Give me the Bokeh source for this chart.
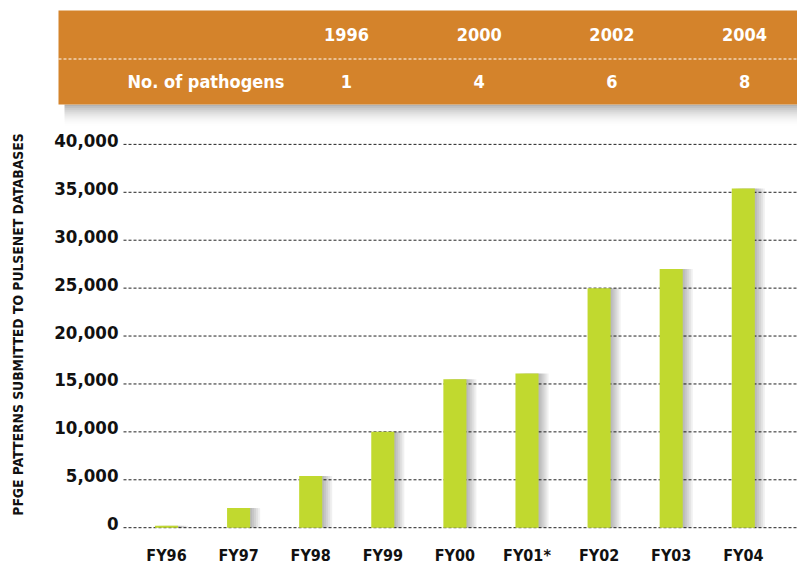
import math
from bokeh.plotting import figure
from bokeh.models import Range1d, ColumnDataSource
from bokeh.transform import dodge
from bokeh.core.properties import value
from bokeh.embed import file_html
from bokeh.resources import INLINE

# ---------------- data ----------------
fiscal_years = ["FY96", "FY97", "FY98", "FY99", "FY00", "FY01*", "FY02", "FY03", "FY04"]
patterns_submitted = [200, 2050, 5400, 10000, 15500, 16100, 25000, 27000, 35400]
y_ticks = [0, 5000, 10000, 15000, 20000, 25000, 30000, 35000, 40000]

header_years = ["1996", "2000", "2002", "2004"]
pathogen_counts = [1, 4, 6, 8]
header_row_label = "No. of pathogens"
y_axis_title = "PFGE PATTERNS SUBMITTED TO PULSENET DATABASES"

# ---------------- style ----------------
FONT = "'DejaVu Sans Condensed', 'Roboto Condensed', 'DejaVu Sans', sans-serif"
ORANGE = "#d4832b"
GREEN = "#c1d92f"
INK = "#111111"
W, H = 797, 566

slot = list(range(len(fiscal_years)))

# value scales chosen so that the plot area matches the reference layout
# x: slot i -> 166 + 72.1*i px ; y: 0 -> 527.2 px, 9.583 px per 1000
X0, XS = 166.0, 72.1
Y0, YS = 527.2, 9.583 / 1000
p = figure(width=W, height=H,
           x_range=Range1d(-X0 / XS, (W - X0) / XS),
           y_range=Range1d(-(H - Y0) / YS, Y0 / YS),
           output_backend="svg", toolbar_location=None,
           min_border_left=0, min_border_right=0, min_border_top=0, min_border_bottom=0)
p.outline_line_color = None
p.background_fill_color = "white"
p.border_fill_color = "white"
p.axis.visible = False
p.grid.visible = False

# page-pixel ranges for decoration (value == pixel on the page)
p.extra_x_ranges = {"px": Range1d(0, W)}
p.extra_y_ranges = {"py": Range1d(H, 0)}

# ---------------- header table ----------------
box_left, box_right, box_top, box_bottom = 58, W, 10, 104
n_sh = 11
p.quad(left=[box_left + 6] * n_sh, right=[box_right] * n_sh,
       top=[box_bottom + 2 * i for i in range(n_sh)],
       bottom=[box_bottom + 2 * i + 2 for i in range(n_sh)],
       fill_color="black", fill_alpha=[0.3 * (1 - i / n_sh) ** 2 for i in range(n_sh)],
       line_color=None, x_range_name="px", y_range_name="py")
p.quad(left=box_left, right=box_right, top=box_top, bottom=box_bottom,
       fill_color=ORANGE, line_color=None, x_range_name="px", y_range_name="py")
p.segment(x0=box_left, x1=box_right, y0=58.5, y1=58.5, line_color="white",
          line_width=1, line_dash="3 2", x_range_name="px", y_range_name="py")

col_first, col_step = 346, 132.7
col_x = [col_first + i * col_step for i in range(len(header_years))]
row1_y, row2_y = 34, 81
hdr = dict(text_font=value(FONT), text_font_style="bold", text_font_size="18px",
           text_color="white", text_baseline="middle", x_range_name="px", y_range_name="py")
p.text(x=col_x, y=[row1_y] * len(col_x), text=header_years, text_align="center", **hdr)
p.text(x=col_x, y=[row2_y] * len(col_x), text=[str(v) for v in pathogen_counts],
       text_align="center", **hdr)
p.text(x=[284], y=[row2_y], text=[header_row_label], text_align="right", **hdr)

# ---------------- y "axis": grid lines, tick labels, title ----------------
p.segment(x0=[123] * len(y_ticks), x1=[W] * len(y_ticks), y0=y_ticks, y1=y_ticks,
          line_color="#222222", line_width=1, line_dash="3 2", x_range_name="px")
p.text(x=[118] * len(y_ticks), y=y_ticks, text=[f"{v:,}" for v in y_ticks],
       text_font=value(FONT), text_font_style="bold", text_font_size="18.5px",
       text_color=INK, text_align="right", text_baseline="middle", y_offset=-4,
       x_range_name="px")
p.text(x=[17], y=[324], text=[y_axis_title], angle=math.pi / 2,
       text_font=value(FONT), text_font_style="bold", text_font_size="13.8px",
       text_color=INK, text_align="center", text_baseline="middle",
       x_range_name="px", y_range_name="py")

# ---------------- bars ----------------
src = ColumnDataSource(dict(slot=slot, fy=fiscal_years, patterns=patterns_submitted))
px_unit = 1 / XS
for off in [2, 4, 6, 8, 10]:
    p.vbar(x=dodge("slot", off * px_unit), top="patterns", bottom=0,
           width=0.32, source=src, fill_color="black", fill_alpha=0.06, line_color=None)
p.vbar(x="slot", top="patterns", bottom=0, width=0.32, source=src,
       fill_color=GREEN, line_color=None)

# ---------------- x "axis" labels ----------------
p.text(x="slot", y=555, text="fy", source=src,
       text_font=value(FONT), text_font_style="bold", text_font_size="16px",
       text_color=INK, text_align="center", text_baseline="middle", y_range_name="py")

open("out.html", "w").write(file_html(p, INLINE))
